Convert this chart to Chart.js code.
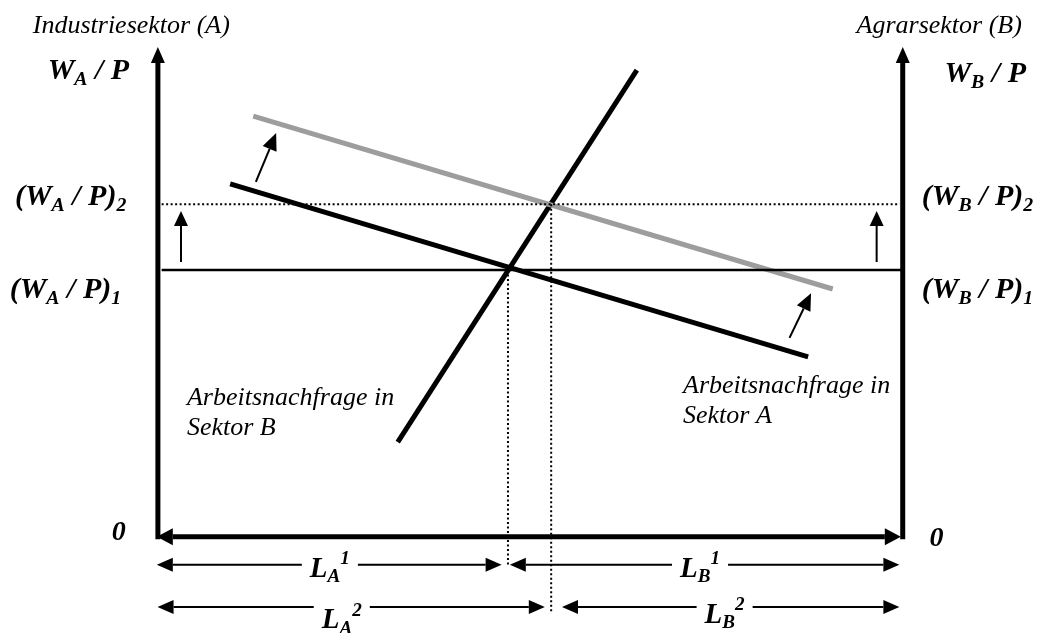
<!DOCTYPE html>
<html>
<head>
<meta charset="utf-8">
<script src="https://cdn.jsdelivr.net/npm/chart.js@4.4.1/dist/chart.umd.min.js"></script>
<style>
  html, body { margin: 0; padding: 0; background: #fff; }
  #wrap { width: 1042px; height: 633px; }
</style>
</head>
<body>
<div id="wrap"><canvas id="chart"></canvas></div>
<script>
// labour axis: 0 = left axis (sector A), 100 = right axis (sector B)
// wage axis: 0 = bottom, 100 = top of the wage axes
const X_MIN = -21.2, X_MAX = 118.7, Y_MIN = -20.3, Y_MAX = 113.3;

// labour demand curves
const demandA1 = [{x: 9.7, y: 74.5}, {x: 87.3, y: 38.0}];
const demandA2 = [{x: 12.8, y: 88.8}, {x: 90.6, y: 52.3}];
const demandB = [{x: 32.2, y: 20.0}, {x: 64.3, y: 98.5}];

// real wage levels and employment split
const wage1 = [{x: 0.5, y: 56.3}, {x: 100, y: 56.3}];
const wage2 = [{x: 0.5, y: 70.2}, {x: 99.6, y: 70.2}];
const split1 = [{x: 47.0, y: 56.3}, {x: 47.0, y: -5.9}];
const split2 = [{x: 52.8, y: 70.2}, {x: 52.8, y: -15.8}];

// axes
const axisLeft = [{x: 0, y: -0.5}, {x: 0, y: 100}];
const axisRight = [{x: 100, y: -0.5}, {x: 100, y: 100}];
const axisBottom = [{x: 2.0, y: 0}, {x: 97.6, y: 0}];

// shift arrows
const shiftLeft = [{x: 3.1, y: 58.0}, {x: 3.1, y: 65.6}];
const shiftRight = [{x: 96.5, y: 58.0}, {x: 96.5, y: 65.6}];
const shiftA1 = [{x: 13.15, y: 74.9}, {x: 15.0, y: 81.9}];
const shiftA2 = [{x: 84.8, y: 42.0}, {x: 86.7, y: 48.2}];

// employment spans under the axis
const spanLA1 = [{x: 2.0, y: -5.9}, {x: 44.0, y: -5.9}];
const spanLB1 = [{x: 49.4, y: -5.9}, {x: 97.4, y: -5.9}];
const spanLA2 = [{x: 2.1, y: -14.8}, {x: 49.8, y: -14.8}];
const spanLB2 = [{x: 56.4, y: -14.8}, {x: 97.4, y: -14.8}];

const WS = 30; // wage labels
const LS = 29; // employment labels
const ZS = 28; // origin zeros
const IT = 26; // italic labels

// text labels (x/y in chart units, y = baseline)
const labels = [
  {size: IT, bold: false, x: -16.8, y: 106.3, parts: [{t: 'Industriesektor (A)'}]},
  {size: IT, bold: false, x: 93.8, y: 106.3, parts: [{t: 'Agrarsektor (B)'}]},
  {size: WS, bold: true, x: -14.8, y: 96.6, parts: [{t: 'W'}, {t: 'A', s: 'sub'}, {t: ' / P'}]},
  {size: WS, bold: true, x: 105.6, y: 96.0, parts: [{t: 'W'}, {t: 'B', s: 'sub'}, {t: ' / P'}]},
  {size: WS, bold: true, x: -19.2, y: 70.0, parts: [{t: '(W'}, {t: 'A', s: 'sub'}, {t: ' / P)'}, {t: '2', s: 'sub'}]},
  {size: WS, bold: true, x: -19.9, y: 50.4, parts: [{t: '(W'}, {t: 'A', s: 'sub'}, {t: ' / P)'}, {t: '1', s: 'sub'}]},
  {size: WS, bold: true, x: 102.55, y: 70.0, parts: [{t: '(W'}, {t: 'B', s: 'sub'}, {t: ' / P)'}, {t: '2', s: 'sub'}]},
  {size: WS, bold: true, x: 102.55, y: 50.4, parts: [{t: '(W'}, {t: 'B', s: 'sub'}, {t: ' / P)'}, {t: '1', s: 'sub'}]},
  {size: ZS, bold: true, x: -6.2, y: -0.6, parts: [{t: '0'}]},
  {size: ZS, bold: true, x: 103.6, y: -1.9, parts: [{t: '0'}]},
  {size: IT, bold: false, x: 3.9, y: 27.85, parts: [{t: 'Arbeitsnachfrage in'}]},
  {size: IT, bold: false, x: 3.9, y: 21.5, parts: [{t: 'Sektor B'}]},
  {size: IT, bold: false, x: 70.5, y: 30.4, parts: [{t: 'Arbeitsnachfrage in'}]},
  {size: IT, bold: false, x: 70.5, y: 24.1, parts: [{t: 'Sektor A'}]},
  {size: LS, bold: true, box: true, x: 20.4, y: -8.4, parts: [{t: 'L'}, {t: 'A', s: 'sub'}, {t: '1', s: 'sup'}]},
  {size: LS, bold: true, box: true, x: 22.0, y: -19.2, parts: [{t: 'L'}, {t: 'A', s: 'sub'}, {t: '2', s: 'sup'}]},
  {size: LS, bold: true, box: true, x: 70.1, y: -8.4, parts: [{t: 'L'}, {t: 'B', s: 'sub'}, {t: '1', s: 'sup'}]},
  {size: LS, bold: true, box: true, x: 73.4, y: -18.1, parts: [{t: 'L'}, {t: 'B', s: 'sub'}, {t: '2', s: 'sup'}]}
];

function line(data, color, width, extra) {
  return Object.assign({
    data: data,
    showLine: true,
    borderColor: color,
    backgroundColor: color,
    borderWidth: width,
    pointRadius: 0,
    pointHoverRadius: 0,
    clip: false
  }, extra || {});
}

function drawHead(ctx, from, to, len, wid, color) {
  const ang = Math.atan2(to.y - from.y, to.x - from.x);
  ctx.save();
  ctx.translate(to.x, to.y);
  ctx.rotate(ang);
  ctx.beginPath();
  ctx.moveTo(len, 0);
  ctx.lineTo(0, wid / 2);
  ctx.lineTo(0, -wid / 2);
  ctx.closePath();
  ctx.fillStyle = color;
  ctx.fill();
  ctx.restore();
}

function fontFor(size, bold) {
  return (bold ? 'bold ' : '') + 'italic ' + size + 'px "Liberation Serif", "Times New Roman", serif';
}

// arrowheads drawn at the ends of flagged datasets (head base sits on the end point)
const arrowHeads = {
  id: 'arrowHeads',
  afterDatasetsDraw(chart) {
    const ctx = chart.ctx;
    chart.data.datasets.forEach((ds, i) => {
      if (!ds.arrow) return;
      const pts = chart.getDatasetMeta(i).data;
      const a = pts[0], b = pts[pts.length - 1];
      const len = ds.headLen || 15, wid = ds.headWid || 13;
      if (ds.arrow === 'end' || ds.arrow === 'both') drawHead(ctx, a, b, len, wid, ds.borderColor);
      if (ds.arrow === 'start' || ds.arrow === 'both') drawHead(ctx, b, a, len, wid, ds.borderColor);
    });
  }
};

const textLabels = {
  id: 'textLabels',
  afterDraw(chart) {
    const ctx = chart.ctx;
    const xs = chart.scales.x, ys = chart.scales.y;
    ctx.save();
    ctx.textBaseline = 'alphabetic';
    ctx.textAlign = 'left';
    labels.forEach(lab => {
      let px = xs.getPixelForValue(lab.x);
      const py = ys.getPixelForValue(lab.y);
      let total = 0;
      lab.parts.forEach(p => {
        const sz = p.s ? lab.size * 0.66 : lab.size;
        ctx.font = fontFor(sz, lab.bold);
        p.w = ctx.measureText(p.t).width;
        total += p.w;
      });
      if (lab.box) {
        ctx.fillStyle = '#fff';
        ctx.fillRect(px - 8, py - lab.size, total + 16, lab.size * 1.4);
      }
      ctx.fillStyle = '#000';
      lab.parts.forEach(p => {
        const sz = p.s ? lab.size * 0.66 : lab.size;
        let dy = 0;
        if (p.s === 'sub') dy = lab.size * 0.2;
        if (p.s === 'sup') dy = -lab.size * 0.42;
        ctx.font = fontFor(sz, lab.bold);
        ctx.fillText(p.t, px, py + dy);
        px += p.w;
      });
    });
    ctx.restore();
  }
};

const dotted = {borderDash: [2, 2.5]};

new Chart(document.getElementById('chart'), {
  type: 'scatter',
  data: {
    datasets: [
      line(wage2, '#000', 2, dotted),
      line(split1, '#000', 2, dotted),
      line(split2, '#000', 2, dotted),
      line(wage1, '#000', 2.5),
      line(demandA2, '#9d9d9d', 5),
      line(demandA1, '#000', 5),
      line(demandB, '#000', 5),
      line(axisLeft, '#000', 5, {arrow: 'end', headLen: 16, headWid: 14}),
      line(axisRight, '#000', 5, {arrow: 'end', headLen: 16, headWid: 14}),
      line(axisBottom, '#000', 5, {arrow: 'both', headLen: 16, headWid: 17}),
      line(shiftLeft, '#000', 2, {arrow: 'end', headLen: 15, headWid: 14}),
      line(shiftRight, '#000', 2, {arrow: 'end', headLen: 15, headWid: 14}),
      line(shiftA1, '#000', 2, {arrow: 'end', headLen: 17, headWid: 15}),
      line(shiftA2, '#000', 2, {arrow: 'end', headLen: 17, headWid: 15}),
      line(spanLA1, '#000', 2, {arrow: 'both', headLen: 16, headWid: 14}),
      line(spanLB1, '#000', 2, {arrow: 'both', headLen: 16, headWid: 14}),
      line(spanLA2, '#000', 2, {arrow: 'both', headLen: 16, headWid: 14}),
      line(spanLB2, '#000', 2, {arrow: 'both', headLen: 16, headWid: 14})
    ]
  },
  options: {
    responsive: true,
    maintainAspectRatio: false,
    animation: false,
    events: [],
    layout: {padding: 0},
    plugins: {legend: {display: false}, tooltip: {enabled: false}},
    scales: {
      x: {type: 'linear', min: X_MIN, max: X_MAX, display: false},
      y: {type: 'linear', min: Y_MIN, max: Y_MAX, display: false}
    }
  },
  plugins: [arrowHeads, textLabels]
});
</script>
</body>
</html>
